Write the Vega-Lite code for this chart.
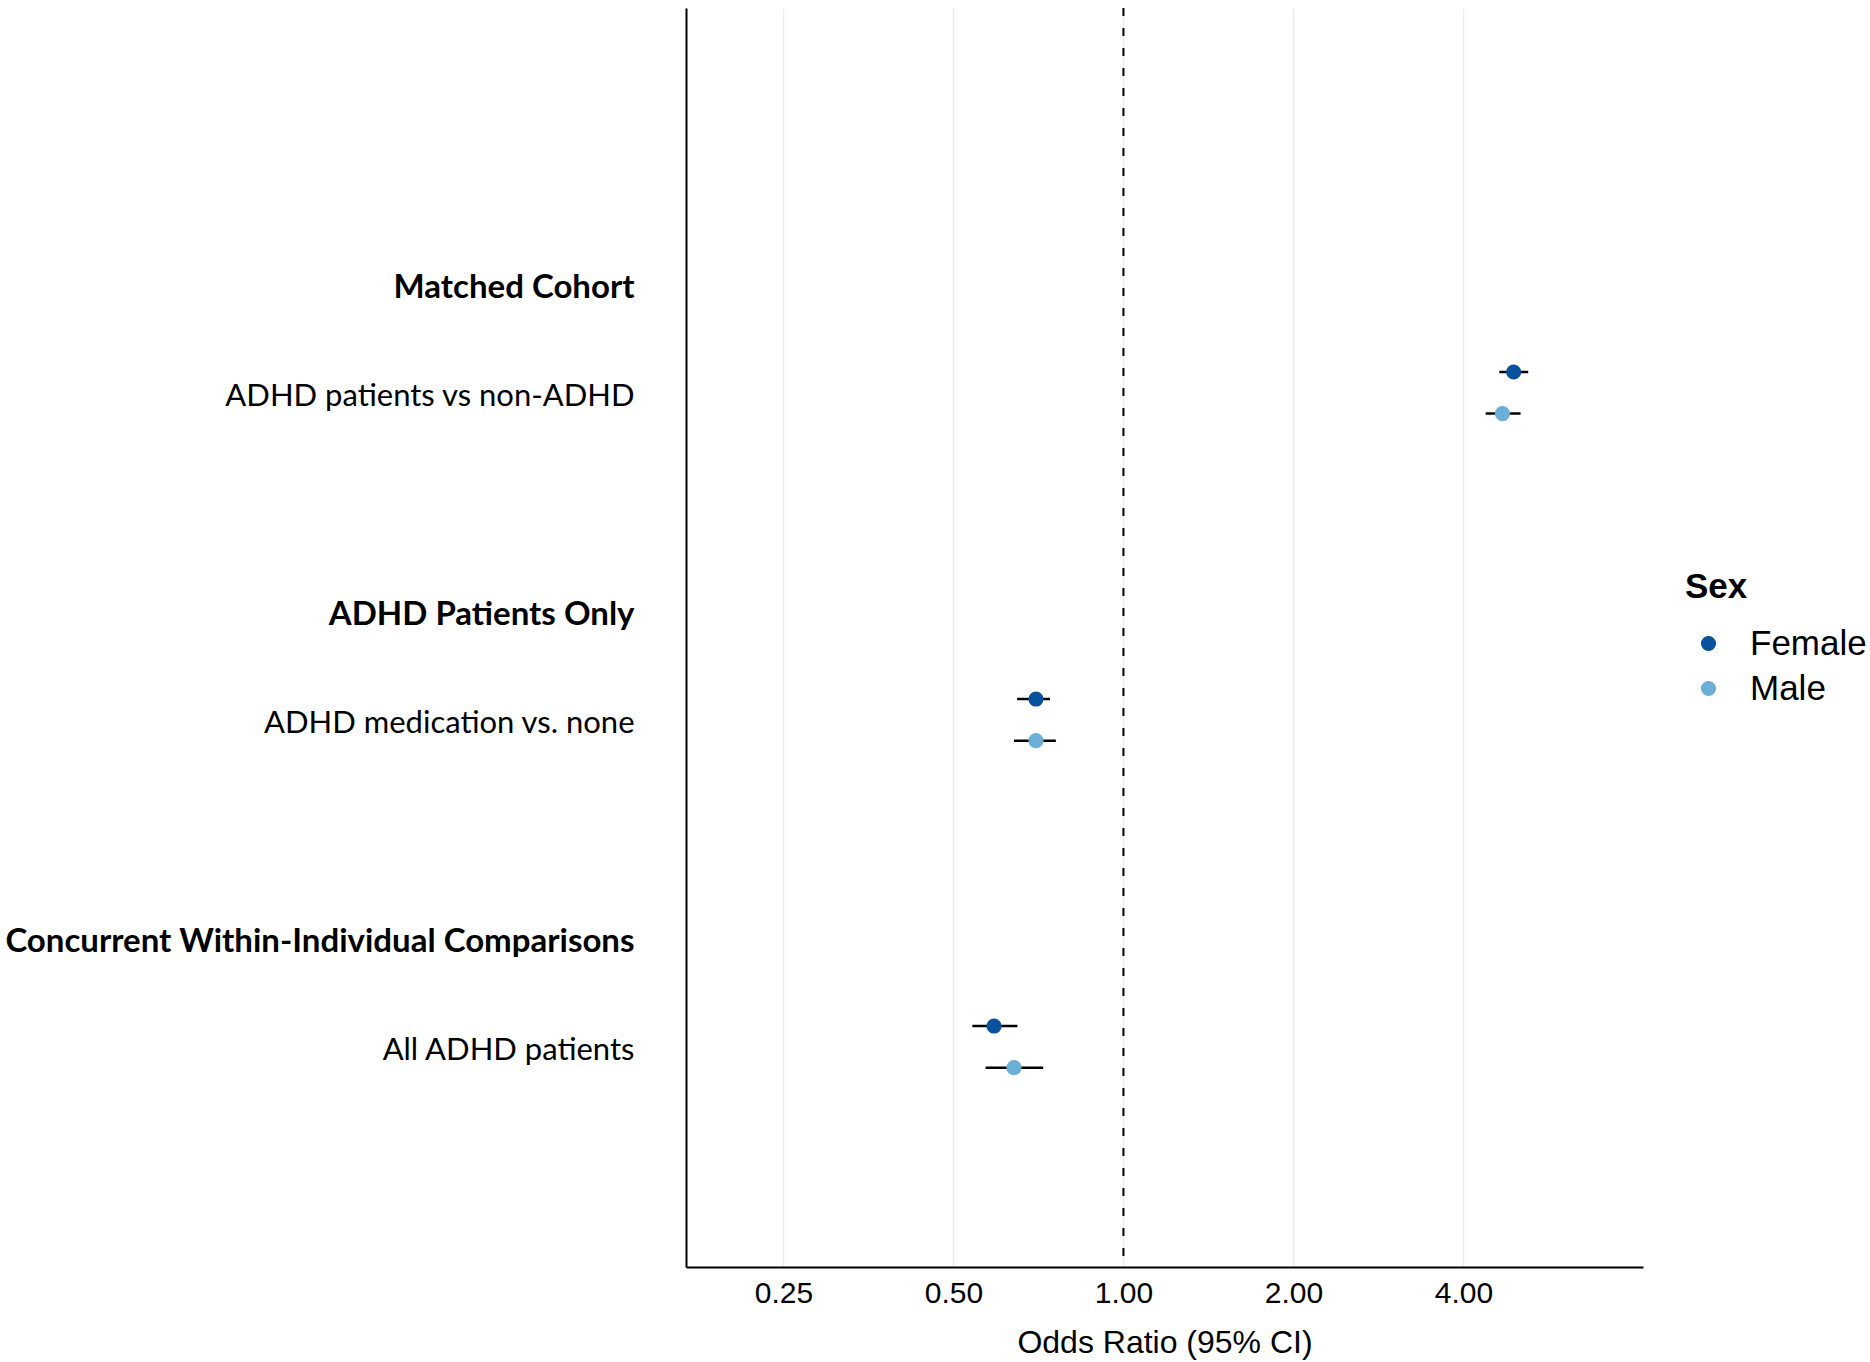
{
  "$schema": "https://vega.github.io/schema/vega-lite/v6.json",
  "autosize": {"type": "none"},
  "padding": {"left": 686, "top": 8, "right": 227, "bottom": 95},
  "width": 957,
  "height": 1259,
  "background": "white",
  "config": {"view": {"stroke": null}},
  "layer": [
    {
      "data": {"values": [{"ref": 1}]},
      "mark": {"type": "rule", "color": "black", "strokeDash": [8, 12], "strokeWidth": 2},
      "encoding": {
        "x": {"field": "ref", "type": "quantitative", "scale": {"type": "log", "base": 2, "domain": [0.168, 8.32], "nice": false, "zero": false},
          "axis": {
            "values": [0.25, 0.5, 1, 2, 4], "format": ".2f",
            "grid": true, "gridColor": "#ebebeb", "gridWidth": 1.5,
            "ticks": false, "domainColor": "black", "domainWidth": 2,
            "labelFont": "Liberation Sans", "labelFontSize": 30, "labelColor": "black", "labelPadding": 11,
            "title": "Odds Ratio (95% CI)", "titleFont": "Liberation Sans", "titleFontSize": 32, "titleFontWeight": "normal", "titleColor": "black", "titlePadding": 19
          }
        }
      }
    },
    {
      "data": {"name": "est", "values": [
        {"comparison": "ADHD patients vs non-ADHD", "sex": "Female", "or": 4.91, "lo": 4.63, "hi": 5.21},
        {"comparison": "ADHD patients vs non-ADHD", "sex": "Male", "or": 4.69, "lo": 4.38, "hi": 5.05},
        {"comparison": "ADHD medication vs. none", "sex": "Female", "or": 0.70, "lo": 0.648, "hi": 0.741},
        {"comparison": "ADHD medication vs. none", "sex": "Male", "or": 0.70, "lo": 0.640, "hi": 0.759},
        {"comparison": "All ADHD patients", "sex": "Female", "or": 0.59, "lo": 0.540, "hi": 0.649},
        {"comparison": "All ADHD patients", "sex": "Male", "or": 0.64, "lo": 0.570, "hi": 0.721}
      ]},
      "encoding": {
        "y": {
          "field": "comparison", "type": "nominal",
          "scale": {
            "domain": ["gapA", "gapB", "Matched Cohort", "ADHD patients vs non-ADHD", "gap1", "ADHD Patients Only", "ADHD medication vs. none", "gap2", "Concurrent Within-Individual Comparisons", "All ADHD patients", "gapC"],
            "paddingInner": 0, "paddingOuter": 0.275, "align": 0.055
          },
          "axis": {
            "title": null, "ticks": false, "grid": false,
            "domainColor": "black", "domainWidth": 2,
            "labelPadding": 52, "labelOffset": 4, "labelFont": "Lato", "labelColor": "black", "labelLimit": 0,
            "labelExpr": "indexof(datum.value, 'gap') == 0 ? '' : datum.value",
            "labelFontWeight": {"condition": {"test": "datum.value == 'Matched Cohort' || datum.value == 'ADHD Patients Only' || datum.value == 'Concurrent Within-Individual Comparisons'", "value": "bold"}, "value": "normal"},
            "labelFontSize": {"condition": {"test": "datum.value == 'Matched Cohort' || datum.value == 'ADHD Patients Only' || datum.value == 'Concurrent Within-Individual Comparisons'", "value": 33}, "value": 31}
          }
        },
        "yOffset": {"field": "sex", "type": "nominal", "scale": {"domain": ["Female", "Male"], "paddingInner": 0, "paddingOuter": 0.31}}
      },
      "layer": [
        {
          "mark": {"type": "rule", "color": "black", "strokeWidth": 2.5},
          "encoding": {
            "x": {"field": "lo", "type": "quantitative"},
            "x2": {"field": "hi"}
          }
        },
        {
          "mark": {"type": "point", "filled": true, "size": 230, "opacity": 1},
          "encoding": {
            "x": {"field": "or", "type": "quantitative"},
            "color": {
              "field": "sex", "type": "nominal",
              "scale": {"domain": ["Female", "Male"], "range": ["#08519c", "#6baed6"]},
              "legend": {
                "title": "Sex", "orient": "none", "legendX": 999, "legendY": 562, "padding": 0,
                "titleFont": "Liberation Sans", "titleFontSize": 35, "titleFontWeight": "bold", "titleColor": "black", "titlePadding": 21,
                "labelFont": "Liberation Sans", "labelFontSize": 35, "labelColor": "black",
                "symbolType": "circle", "symbolSize": 230, "symbolOffset": 6, "labelOffset": 24, "rowPadding": 9, "symbolStrokeWidth": 0
              }
            }
          }
        }
      ]
    }
  ]
}
